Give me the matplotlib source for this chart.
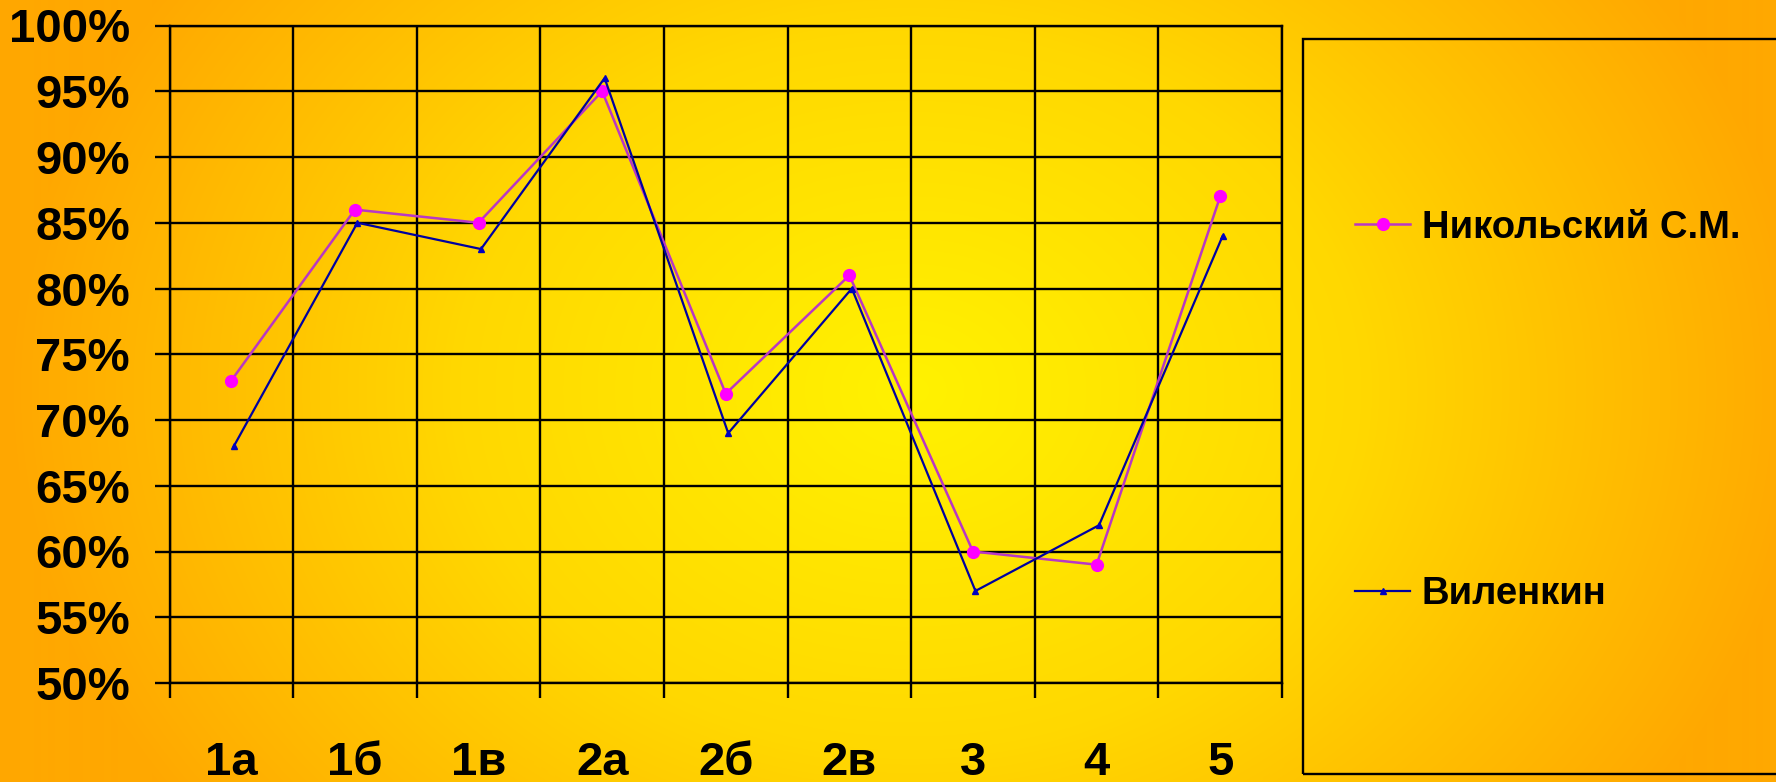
import numpy as np
import matplotlib
matplotlib.use('Agg')
import matplotlib.pyplot as plt
from matplotlib.colors import LinearSegmentedColormap
from matplotlib.patches import Rectangle

categories = ['1а', '1б', '1в', '2а', '2б', '2в', '3', '4', '5']
nikolsky = [73, 86, 85, 95, 72, 81, 60, 59, 87]
vilenkin = [68, 85, 83, 96, 69, 80, 57, 62, 84]
series_names = ['Никольский С.М.', 'Виленкин']
y_ticks = list(range(50, 101, 5))

plt.rcParams['font.family'] = ['Liberation Sans', 'DejaVu Sans']
plt.rcParams['font.weight'] = 'bold'

W, H = 1776, 782
fig = plt.figure(figsize=(W / 100, H / 100), dpi=100)

# background radial gradient
bg = fig.add_axes([0, 0, 1, 1], zorder=-10)
yy, xx = np.mgrid[0:H, 0:W]
cx, cy = 910, 390
r = np.sqrt(((xx - cx) / 900.0) ** 2 + ((yy - cy) / 720.0) ** 2)
r = np.clip(r, 0, 1)
cmap = LinearSegmentedColormap.from_list('bg', ['#FFF200', '#FFD800', '#FFA800'])
bg.imshow(r, cmap=cmap, vmin=0, vmax=1, aspect='auto', extent=[0, W, H, 0])
bg.axis('off')

left, right, top, bottom = 169.5, 1282, 25.5, 683
ax = fig.add_axes([left / W, 1 - bottom / H, (right - left) / W, (bottom - top) / H])
ax.set_facecolor('none')

x = np.arange(len(categories))
l1, = ax.plot(x, nikolsky, color='#B838C4', lw=1.8, marker='o', ms=8.5,
              markerfacecolor='#FF00FF', markeredgecolor='#FF00FF', zorder=5,
              label=series_names[0])
l2, = ax.plot(x + 0.02, vilenkin, color='#0000A0', lw=1.6, marker='^', ms=4,
              markerfacecolor='#0000C0', markeredgecolor='#0000C0', zorder=6,
              label=series_names[1])

ax.set_xlim(-0.5, len(categories) - 0.5)
ax.set_ylim(50, 100)
ax.set_yticks(y_ticks)
ax.set_yticklabels([f'{v}%' for v in y_ticks])
ax.set_xticks(x)
ax.set_xticklabels(categories)
ax.set_xticks(np.arange(-0.5, len(categories), 1.0), minor=True)

ax.grid(True, which='major', axis='y', color='black', lw=1.7, zorder=1)
ax.grid(True, which='minor', axis='x', color='black', lw=1.7, zorder=1)
for s in ax.spines.values():
    s.set_color('black')
    s.set_linewidth(1.7)

ax.tick_params(axis='y', which='major', length=10.5, width=1.7, direction='out',
               pad=18, labelsize=34, colors='black')
ax.tick_params(axis='x', which='major', length=0, pad=42, labelsize=34)
ax.tick_params(axis='x', which='minor', length=11, width=1.7, direction='out')
for t in ax.get_xticklabels() + ax.get_yticklabels():
    t.set_fontweight('bold')

# legend box
fig.patches.append(Rectangle((1303 / W, 1 - 774 / H), 0.4, 735 / H,
                             transform=fig.transFigure, fill=False,
                             edgecolor='black', lw=1.7))
leg = fig.legend(handles=[l1, l2], loc='center left',
                 bbox_to_anchor=(1355 / W, 1 - 411 / H), frameon=False,
                 prop={'size': 27.5, 'weight': 'bold'}, handlelength=1.44,
                 handletextpad=0.31, labelspacing=8.65, borderpad=0, borderaxespad=0)

fig.savefig('out.png', dpi=100)
